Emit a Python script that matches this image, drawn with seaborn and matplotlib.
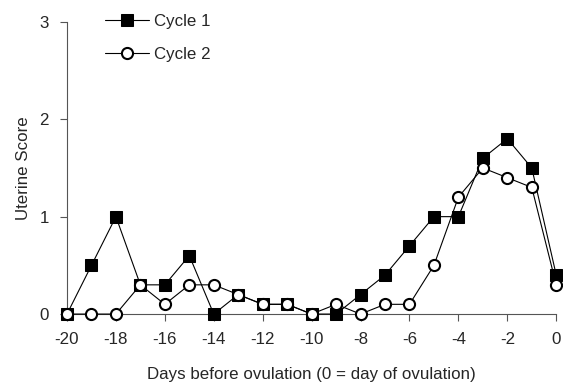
import matplotlib
matplotlib.use('Agg')
import matplotlib.pyplot as plt
import seaborn as sns
import pandas as pd

days = list(range(-20, 1))
cycle1 = [0, 0.5, 1.0, 0.3, 0.3, 0.6, 0, 0.2, 0.1, 0.1, 0, 0, 0.2, 0.4, 0.7, 1.0, 1.0, 1.6, 1.8, 1.5, 0.4]
cycle2 = [0, 0, 0, 0.3, 0.1, 0.3, 0.3, 0.2, 0.1, 0.1, 0, 0.1, 0, 0.1, 0.1, 0.5, 1.2, 1.5, 1.4, 1.3, 0.3]

sns.set_style('white')
plt.rcParams['font.family'] = ['Liberation Sans', 'DejaVu Sans']
plt.rcParams['axes.unicode_minus'] = False

fig = plt.figure(figsize=(5.63, 3.83), dpi=100)
ax = fig.add_axes([0.119, 0.18, 0.869, 0.763])

df1 = pd.DataFrame({'day': days, 'score': cycle1})
df2 = pd.DataFrame({'day': days, 'score': cycle2})

sns.lineplot(data=df1, x='day', y='score', ax=ax, color='black', lw=0.8,
             marker='s', markersize=9, markerfacecolor='black', markeredgecolor='black',
             label='Cycle 1', zorder=3, clip_on=False)
sns.lineplot(data=df2, x='day', y='score', ax=ax, color='black', lw=0.8,
             marker='o', markersize=8, markerfacecolor='white', markeredgecolor='black',
             markeredgewidth=1.5, label='Cycle 2', zorder=4, clip_on=False)

ax.set_xlim(-20, 0)
ax.set_ylim(0, 3)
ax.set_xticks(range(-20, 1, 2))
ax.set_yticks([0, 1, 2, 3])
ax.tick_params(axis='both', direction='out', length=5, width=0.8, color='#555555',
               labelsize=12.2, bottom=True, left=True, pad=8)
ax.set_xlabel('Days before ovulation (0 = day of ovulation)', fontsize=12.2, labelpad=14)
ax.set_ylabel('Uterine Score', fontsize=12.2, labelpad=6)
sns.despine(ax=ax)
for s in ['left', 'bottom']:
    ax.spines[s].set_color('#555555')
    ax.spines[s].set_linewidth(0.8)

ax.legend(loc='upper left', bbox_to_anchor=(0.046, 1.08), frameon=False,
          fontsize=12.2, handlelength=2.6, labelspacing=1.1, handletextpad=0.3)

plt.savefig('out.png', dpi=100)
